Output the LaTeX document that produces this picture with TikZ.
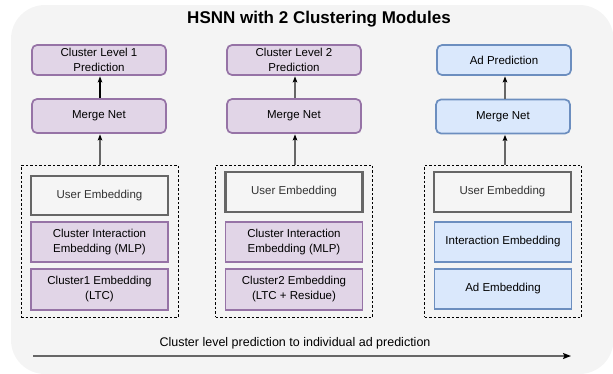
\documentclass[tikz,border=0pt]{standalone}
\usepackage{fontspec}
\setmainfont{Liberation Sans}
\usetikzlibrary{arrows.meta}
\definecolor{bgc}{HTML}{F4F4F4}
\definecolor{purpF}{HTML}{E1D5E7}
\definecolor{purpD}{HTML}{9673A6}
\definecolor{blueF}{HTML}{DAE8FC}
\definecolor{blueD}{HTML}{6C8EBF}
\definecolor{grayF}{HTML}{F5F5F5}
\definecolor{grayD}{HTML}{666666}
\definecolor{grayT}{HTML}{333333}
\tikzset{
  boxtext/.style={font=\fontsize{11.5}{15}\selectfont, align=center, inner sep=0pt, text=black},
  predbox/.style={boxtext, rounded corners=5pt, line width=1.7pt, minimum width=134pt, minimum height=30pt},
  mergebox/.style={predbox, minimum height=34pt},
  purp/.style={fill=purpF, draw=purpD},
  blu/.style={fill=blueF, draw=blueD},
  embbox/.style={boxtext, line width=1.7pt, minimum width=137pt, minimum height=40pt},
  userbox/.style={embbox, fill=grayF, draw=grayD, line width=2.3pt, text=grayT},
  groupbox/.style={draw=black, line width=0.9pt, dash pattern=on 2.5pt off 2pt, minimum width=157pt, minimum height=152pt, inner sep=0pt},
  conn/.style={draw=grayD, line width=1.2pt, -{Stealth[length=6pt,width=4.5pt,inset=1pt,color=black]}, shorten >=0.5pt},
}
\begin{document}
\begin{tikzpicture}[x=1pt,y=-1pt]
\useasboundingbox (0,0) rectangle (613,373);
\fill[bgc, rounded corners=34pt] (11,5) rectangle (613.5,374);

\node[font=\fontsize{17}{20}\selectfont\bfseries] (title) at (319,19) {HSNN with 2 Clustering Modules};

% column 1
\node[predbox,purp] (p1) at (99,60) {Cluster Level 1\\Prediction};
\node[mergebox,purp] (m1) at (99,116) {Merge Net};
\node[groupbox] (g1) at (99.5,241) {};
\node[userbox, minimum height=39pt] (u1) at (99.5,195.5) {User Embedding};
\node[embbox,purp] (i1) at (99.5,242) {Cluster Interaction\\Embedding (MLP)};
\node[embbox,purp, minimum height=41pt] (c1) at (99.5,289.5) {Cluster1 Embedding\\(LTC)};
\draw[conn, draw=black] (m1.north -| 100,0) -- (p1.south -| 100,0);
\draw[conn] (g1.north -| 100,0) -- (m1.south -| 100,0);

% column 2
\node[predbox,purp] (p2) at (294,60) {Cluster Level 2\\Prediction};
\node[mergebox,purp] (m2) at (294,116) {Merge Net};
\node[groupbox] (g2) at (294,241) {};
\node[userbox] (u2) at (294,192) {User Embedding};
\node[embbox,purp] (i2) at (294,242) {Cluster Interaction\\Embedding (MLP)};
\node[embbox,purp, minimum height=41pt] (c2) at (294,289.5) {Cluster2 Embedding\\(LTC + Residue)};
\draw[conn] (m2.north -| 295,0) -- (p2.south -| 295,0);
\draw[conn] (g2.north -| 295,0) -- (m2.south -| 295,0);

% column 3
\node[predbox,blu] (p3) at (504,60) {Ad Prediction};
\node[mergebox,blu] (m3) at (503,116.5) {Merge Net};
\node[groupbox] (g3) at (503,241) {};
\node[userbox] (u3) at (502.5,192) {User Embedding};
\node[embbox,blu] (i3) at (503,242) {Interaction Embedding};
\node[embbox,blu] (c3) at (503,289) {Ad Embedding};
\draw[conn] (m3.north -| 505,0) -- (p3.south -| 505,0);
\draw[conn] (g3.north -| 505,0) -- (m3.south -| 505,0);

% bottom arrow
\node[font=\fontsize{12.5}{15}\selectfont, inner sep=0pt] (lab) at (295,343) {Cluster level prediction to individual ad prediction};
\coordinate (a0) at (33,356);
\coordinate (a1) at (571,356);
\draw[draw=grayD, line width=1.5pt, -{Stealth[length=8pt,width=6pt,inset=1.5pt,color=black]}] (a0) -- (a1);
\end{tikzpicture}
\end{document}
